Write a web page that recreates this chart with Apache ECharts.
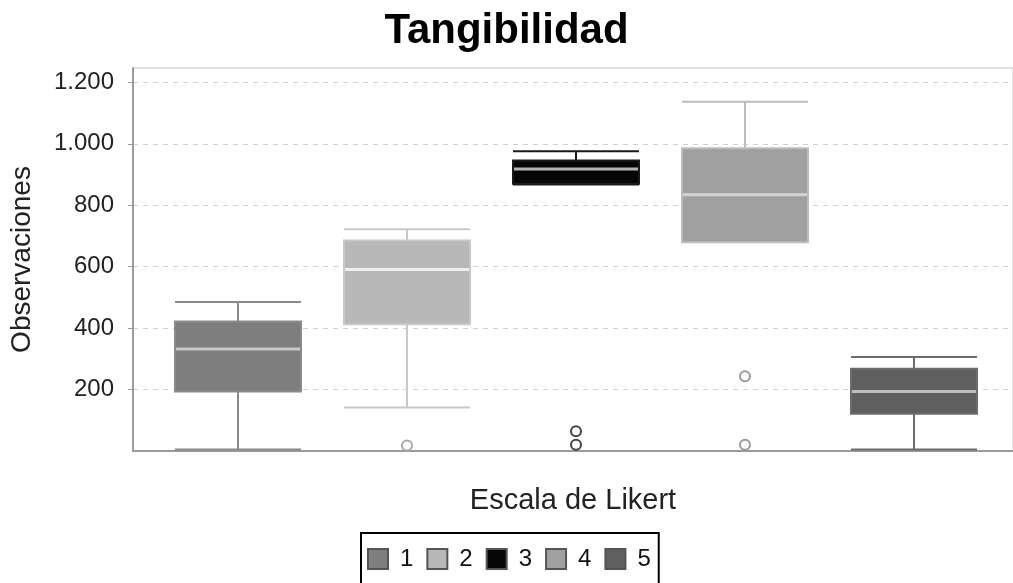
<!DOCTYPE html>
<html>
<head>
<meta charset="utf-8">
<script src="https://cdn.jsdelivr.net/npm/echarts@6/dist/echarts.min.js"></script>
<style>html,body{margin:0;padding:0;background:#fff}#c{width:1013px;height:583px}</style>
</head>
<body>
<div id="c"></div>
<script>
// ---- data ----
const categories = ['1', '2', '3', '4', '5'];
const lowerWhisker = [5, 142, 868, 680, 5];
const q1 = [194, 413, 870, 680, 121];
const median = [332, 591, 918, 834, 194];
const q3 = [422, 685, 946, 986, 268];
const upperWhisker = [485, 722, 976, 1137, 306];
const outlierCategory = ['2', '3', '3', '4', '4'];
const outlierValue = [18, 64, 20, 243, 20];
const yTicks = [200, 400, 600, 800, 1000, 1200];

// ---- styles ----
const fillColors = ['#7e7e7e', '#b8b8b8', '#060606', '#a0a0a0', '#5f5f5f'];
const lineColors = ['#8a8a8a', '#c8c8c8', '#1a1a1a', '#bcbcbc', '#6c6c6c'];
const medianColors = ['#c8c8c8', '#efefef', '#b4b4b4', '#d4d4d4', '#bdbdbd'];
const outlierColors = ['#aaaaaa', '#aaaaaa', '#444444', '#9a9a9a', '#888888'];

const fmt = v => String(v).replace(/\B(?=(\d{3})+(?!\d))/g, '.');

const chart = echarts.init(document.getElementById('c'), null, {renderer: 'canvas'});

const boxData = categories.map((c, i) => ({
  value: [lowerWhisker[i], q1[i], median[i], q3[i], upperWhisker[i]],
  itemStyle: {color: fillColors[i], borderColor: lineColors[i]}
}));
const medianData = categories.map((c, i) => ({
  value: [c, median[i]],
  itemStyle: {color: medianColors[i], opacity: 1}
}));
const outlierData = outlierCategory.map((c, i) => ({
  value: [c, outlierValue[i]],
  itemStyle: {borderColor: outlierColors[categories.indexOf(c)], opacity: 1}
}));

const legendSeries = categories.map((c, i) => ({
  type: 'scatter', name: c, data: [], xAxisIndex: 1, yAxisIndex: 1,
  itemStyle: {color: fillColors[i], borderColor: '#555', borderWidth: 1, opacity: 1}
}));

const YMAX = 1247;

chart.setOption({
  animation: false,
  backgroundColor: '#ffffff',
  title: {
    text: 'Tangibilidad', left: 'center', top: 5,
    textStyle: {fontFamily: 'Liberation Sans', fontWeight: 'bold', fontSize: 42, color: '#000'}
  },
  legend: {
    data: categories.map(c => ({name: c, icon: 'rect', itemStyle: {opacity: 1}})),
    selectedMode: false,
    left: 361, top: 533,
    itemWidth: 20, itemHeight: 20, itemGap: 13,
    padding: [14, 8, 14, 6],
    borderColor: '#000', borderWidth: 2,
    textStyle: {fontFamily: 'Liberation Sans', fontSize: 24, color: '#111', padding: [0, 0, 0, 7]}
  },
  grid: [
    {left: 133, right: -2, top: 68, bottom: 132, show: true, borderColor: '#c4c4c4', borderWidth: 1, backgroundColor: 'transparent'},
    {left: 153.5, right: 14.5, top: 68, bottom: 132}
  ],
  xAxis: [
    {
      type: 'value', gridIndex: 0, min: 0, max: 1,
      name: 'Escala de Likert', nameLocation: 'middle', nameGap: 35,
      nameTextStyle: {fontFamily: 'Liberation Sans', fontSize: 29, color: '#222'},
      axisLine: {show: true, lineStyle: {color: '#9a9a9a', width: 2}},
      axisTick: {show: false}, axisLabel: {show: false}, splitLine: {show: false}
    },
    {
      type: 'category', gridIndex: 1, data: categories, boundaryGap: true, show: false
    }
  ],
  yAxis: [
    {
      type: 'value', gridIndex: 0, min: 0, max: YMAX, interval: 200,
      name: 'Observaciones', nameLocation: 'middle', nameGap: 97, nameRotate: 90,
      nameTextStyle: {fontFamily: 'Liberation Sans', fontSize: 28, color: '#222'},
      axisLine: {show: true, lineStyle: {color: '#9a9a9a', width: 2}},
      axisTick: {show: true, length: 5, customValues: yTicks, lineStyle: {color: '#9a9a9a'}},
      axisLabel: {
        customValues: yTicks, margin: 19,
        fontFamily: 'Liberation Sans', fontSize: 24, color: '#222',
        formatter: v => (v > 0 && v % 200 === 0) ? fmt(v) : ''
      },
      splitLine: {show: true, lineStyle: {color: '#cfcfcf', type: [5, 5], width: 1}}
    },
    {type: 'value', gridIndex: 1, min: 0, max: YMAX, show: false, splitLine: {show: false}}
  ],
  series: [
    ...legendSeries,
    {
      type: 'boxplot', name: 'box', xAxisIndex: 1, yAxisIndex: 1,
      boxWidth: [126, 126],
      itemStyle: {borderWidth: 2},
      data: boxData, z: 3
    },
    {
      type: 'scatter', name: 'median', xAxisIndex: 1, yAxisIndex: 1,
      symbol: 'rect', symbolSize: [124, 3], data: medianData, z: 5, silent: true
    },
    {
      type: 'scatter', name: 'outliers', xAxisIndex: 1, yAxisIndex: 1,
      symbol: 'circle', symbolSize: 10,
      itemStyle: {color: '#ffffff', borderWidth: 2},
      data: outlierData, z: 5, silent: true
    }
  ]
});
</script>
</body>
</html>
